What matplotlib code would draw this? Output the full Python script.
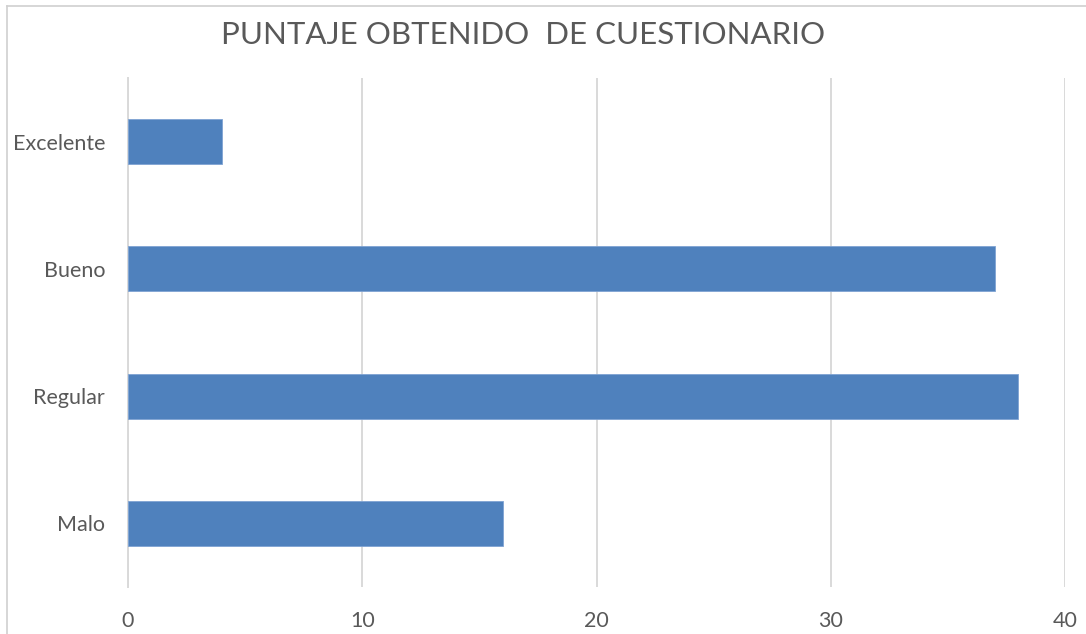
import matplotlib
matplotlib.use("Agg")
import matplotlib.pyplot as plt
from matplotlib.lines import Line2D

categories = ["Malo", "Regular", "Bueno", "Excelente"]
values = [16, 38, 37, 4]
xticks = [0, 10, 20, 30, 40]
title = "PUNTAJE OBTENIDO  DE CUESTIONARIO"

plt.rcParams['font.family'] = ['Lato', 'DejaVu Sans']
text_color = "#595959"
grid_color = "#D9D9D9"

fig = plt.figure(figsize=(10.86, 6.34), dpi=100)
ax = fig.add_axes([128/1086, (634-587)/634, (1065-128)/1086, (587-78)/634])

ax.barh(range(len(categories)), values, height=0.355, color="#4F81BD",
        edgecolor="#7FA3D3", linewidth=0.6, zorder=3)
ax.set_yticks(range(len(categories)))
ax.set_yticklabels(categories)
ax.set_ylim(-0.5, len(categories) - 0.5)
ax.set_xlim(0, 40)
ax.set_xticks(xticks)
ax.grid(axis='x', color=grid_color, linewidth=1.4, zorder=0)
for s in ["top", "right", "bottom"]:
    ax.spines[s].set_visible(False)
ax.spines["left"].set_color(grid_color)
ax.spines["left"].set_linewidth(1.4)
ax.tick_params(axis='both', length=0, labelsize=15.5, colors=text_color)
ax.tick_params(axis='y', pad=16.5)
ax.tick_params(axis='x', pad=17)

fig.text(523/1086, 1 - 35/634, title, ha='center', va='center',
         fontsize=22.5, color=text_color)

# outer chart border (top and left visible)
fig.add_artist(Line2D([6.5/1086, 6.5/1086], [0, 1 - 6/634], transform=fig.transFigure,
                      color="#D0D0D0", linewidth=1.2))
fig.add_artist(Line2D([6.5/1086, 1], [1 - 6/634, 1 - 6/634], transform=fig.transFigure,
                      color="#D0D0D0", linewidth=1.2))

fig.savefig("out.png", dpi=100)
